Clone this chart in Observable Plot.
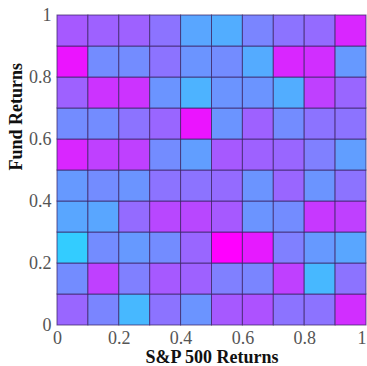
<!DOCTYPE html>
<html>
<head>
<meta charset="utf-8">
<script src="https://cdn.jsdelivr.net/npm/d3@7"></script>
<script src="https://cdn.jsdelivr.net/npm/@observablehq/plot@0.6"></script>
<style>
  html, body { margin: 0; padding: 0; background: #fff; }
  #chart svg { display: block; }
  #chart svg text { font-family: "Liberation Serif", "DejaVu Serif", serif !important; font-variant: normal !important; }
</style>
</head>
<body>
<div id="chart"></div>
<script>
// Bin lower edges for both axes (bin width 0.1)
const binStarts = [0, 0.1, 0.2, 0.3, 0.4, 0.5, 0.6, 0.7, 0.8, 0.9];
const binWidth = 0.1;

// Joint frequency (normalized) per bin; rows listed from the top (Fund 0.9–1) down
const row90 = [0.65, 0.62, 0.62, 0.55, 0.35, 0.32, 0.48, 0.55, 0.58, 0.85];
const row80 = [0.92, 0.45, 0.45, 0.55, 0.42, 0.45, 0.33, 0.85, 0.82, 0.40];
const row70 = [0.62, 0.80, 0.80, 0.42, 0.30, 0.42, 0.42, 0.32, 0.75, 0.60];
const row60 = [0.45, 0.45, 0.55, 0.60, 0.92, 0.42, 0.62, 0.45, 0.55, 0.55];
const row50 = [0.85, 0.75, 0.75, 0.45, 0.38, 0.65, 0.62, 0.60, 0.50, 0.38];
const row40 = [0.40, 0.45, 0.42, 0.55, 0.55, 0.58, 0.42, 0.60, 0.42, 0.55];
const row30 = [0.35, 0.35, 0.58, 0.72, 0.72, 0.65, 0.42, 0.45, 0.78, 0.75];
const row20 = [0.20, 0.45, 0.40, 0.45, 0.60, 1.00, 0.90, 0.50, 0.40, 0.35];
const row10 = [0.45, 0.75, 0.50, 0.65, 0.62, 0.50, 0.48, 0.75, 0.28, 0.55];
const row00 = [0.60, 0.48, 0.28, 0.55, 0.42, 0.65, 0.68, 0.55, 0.55, 0.82];

const rows = [row00, row10, row20, row30, row40, row50, row60, row70, row80, row90];

const tickValues = [0, 0.2, 0.4, 0.6, 0.8, 1];
const tickLabels = ["0", "0.2", "0.4", "0.6", "0.8", "1"];

const cells = [];
rows.forEach((row, i) => {
  row.forEach((v, j) => {
    cells.push({
      x1: binStarts[j], x2: binStarts[j] + binWidth,
      y1: binStarts[i], y2: binStarts[i] + binWidth,
      value: v
    });
  });
});

const fmt = (d) => tickLabels[tickValues.indexOf(d)];
const serif = "Liberation Serif";
const tickColor = "#555";
// The last x tick sits on the right edge, so it is drawn end-anchored
const xTicksInner = tickValues.slice(0, -1);
const xTickLast = tickValues.slice(-1);

const chart = Plot.plot({
  width: 367,
  height: 366,
  marginLeft: 57,
  marginRight: 1,
  marginTop: 15,
  marginBottom: 41,
  style: "font-family: 'Liberation Serif', serif; font-size: 18px; background: #fff;",
  x: { domain: [0, 1], label: null, axis: null },
  y: { domain: [0, 1], label: null, axis: null },
  color: { type: "linear", domain: [0, 1], range: ["#00ffff", "#ff00ff"], interpolate: "rgb" },
  marks: [
    Plot.rect(cells, {
      x1: "x1", x2: "x2", y1: "y1", y2: "y2",
      fill: "value",
      stroke: "#3c2466",
      strokeWidth: 1,
      strokeOpacity: 0.75
    }),
    // x tick labels
    Plot.text(xTicksInner, {
      x: (d) => d, frameAnchor: "bottom", text: fmt, lineAnchor: "top", dy: 6,
      fontFamily: serif, fontSize: 18, fill: tickColor
    }),
    Plot.text(xTickLast, {
      x: (d) => d, frameAnchor: "bottom", text: fmt, lineAnchor: "top", dy: 6,
      textAnchor: "end", fontFamily: serif, fontSize: 18, fill: tickColor
    }),
    // y tick labels
    Plot.text(tickValues, {
      y: (d) => d, frameAnchor: "left", text: fmt, textAnchor: "end", dx: -6,
      fontFamily: serif, fontSize: 18, fill: tickColor
    }),
    Plot.text(["S&P 500 Returns"], { frameAnchor: "bottom", dy: 32, lineAnchor: "middle", fontFamily: serif, fontWeight: "bold", fontSize: 18, fill: "#111" }),
    Plot.text(["Fund Returns"], { frameAnchor: "left", dx: -41, rotate: -90, fontFamily: serif, fontWeight: "bold", fontSize: 18, fill: "#111" })
  ]
});

document.getElementById("chart").appendChild(chart);
</script>
</body>
</html>
